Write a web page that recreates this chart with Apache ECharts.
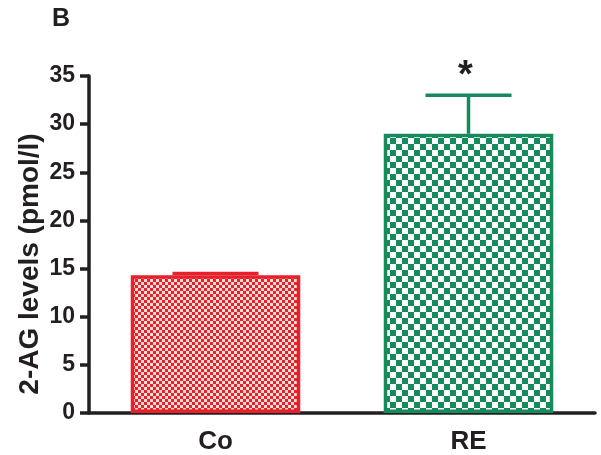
<!DOCTYPE html>
<html>
<head>
<meta charset="utf-8">
<script src="https://cdn.jsdelivr.net/npm/echarts@6/dist/echarts.min.js"></script>
<style>
  html, body { margin: 0; padding: 0; background: #fff; }
  #chart { width: 601px; height: 455px; }
</style>
</head>
<body>
<div id="chart"></div>
<script>
// data
const categories = ['Co', 'RE'];
const means = [14.3, 29.0];
const upperErr = [14.5, 33.0];
const sigMarks = ['', '*'];
const yTicks = [0, 5, 10, 15, 20, 25, 30, 35];
const yTitle = '2-AG levels (pmol/l)';

const fontFam = '"Liberation Sans", Arial, sans-serif';

// checker fills for the bars
function checker(cell, dark, light) {
    const c = document.createElement('canvas');
    c.width = cell * 2;
    c.height = cell * 2;
    const ctx = c.getContext('2d');
    ctx.fillStyle = light;
    ctx.fillRect(0, 0, cell * 2, cell * 2);
    ctx.fillStyle = dark;
    ctx.fillRect(0, 0, cell, cell);
    ctx.fillRect(cell, cell, cell, cell);
    return c;
}

const edgeColors = ['#e6212b', '#168a5a'];
const fills = [
    { image: checker(3, '#e6212b', '#fcdcd4'), repeat: 'repeat' },
    { image: checker(6, '#168a5a', '#ffffff'), repeat: 'repeat' }
];

const errData = categories.map((c, i) => [i, means[i], upperErr[i]]);

const chart = echarts.init(document.getElementById('chart'));
chart.setOption({
    animation: false,
    title: {
        text: 'B',
        left: 47,
        top: 2,
        textStyle: { fontFamily: fontFam, fontSize: 25, fontWeight: 'bold', color: '#231f20' }
    },
    graphic: [
        {
            type: 'text',
            x: 30,
            y: 264,
            rotation: Math.PI / 2,
            style: {
                text: yTitle, fontFamily: fontFam, fontSize: 28, fontWeight: 'bold',
                fill: '#231f20', align: 'center', verticalAlign: 'middle'
            }
        }
    ],
    grid: { left: 89, right: 6, top: 76, bottom: 42 },
    xAxis: {
        type: 'category',
        data: categories,
        axisLine: { lineStyle: { color: '#231f20', width: 3.5 } },
        axisTick: { alignWithLabel: true, length: 11, lineStyle: { color: '#231f20', width: 3.5 } },
        axisLabel: { margin: 16, fontFamily: fontFam, fontSize: 26, fontWeight: 'bold', color: '#231f20' }
    },
    yAxis: {
        type: 'value',
        min: yTicks[0],
        max: yTicks[yTicks.length - 1],
        interval: 5,
        splitLine: { show: false },
        axisLine: { show: true, lineStyle: { color: '#231f20', width: 3.5 } },
        axisTick: { show: true, length: 9, lineStyle: { color: '#231f20', width: 3.5 } },
        axisLabel: { margin: 14, fontFamily: fontFam, fontSize: 23, fontWeight: 'bold', color: '#231f20' }
    },
    series: [
        {
            type: 'bar',
            barWidth: '67%',
            data: means.map((v, i) => ({
                value: v,
                itemStyle: { color: fills[i], borderColor: edgeColors[i], borderWidth: 3.5 }
            })),
            z: 2
        },
        {
            type: 'custom',
            data: errData,
            z: 3,
            renderItem: (params, api) => {
                const i = api.value(0);
                const base = api.coord([i, api.value(1)]);
                const top = api.coord([i, api.value(2)]);
                const half = api.size([1, 0])[0] * 0.17;
                const col = edgeColors[i];
                return {
                    type: 'group',
                    children: [
                        { type: 'line', shape: { x1: base[0], y1: base[1], x2: top[0], y2: top[1] },
                          style: { stroke: col, lineWidth: 3.5 } },
                        { type: 'line', shape: { x1: top[0] - half, y1: top[1], x2: top[0] + half, y2: top[1] },
                          style: { stroke: col, lineWidth: 3.5 } },
                        { type: 'text', x: top[0] - 3, y: top[1] - 19,
                          style: { text: sigMarks[i], fontFamily: fontFam, fontSize: 38, fontWeight: 'bold',
                                   fill: '#231f20', align: 'center', verticalAlign: 'middle' } }
                    ]
                };
            }
        }
    ]
});
</script>
</body>
</html>
